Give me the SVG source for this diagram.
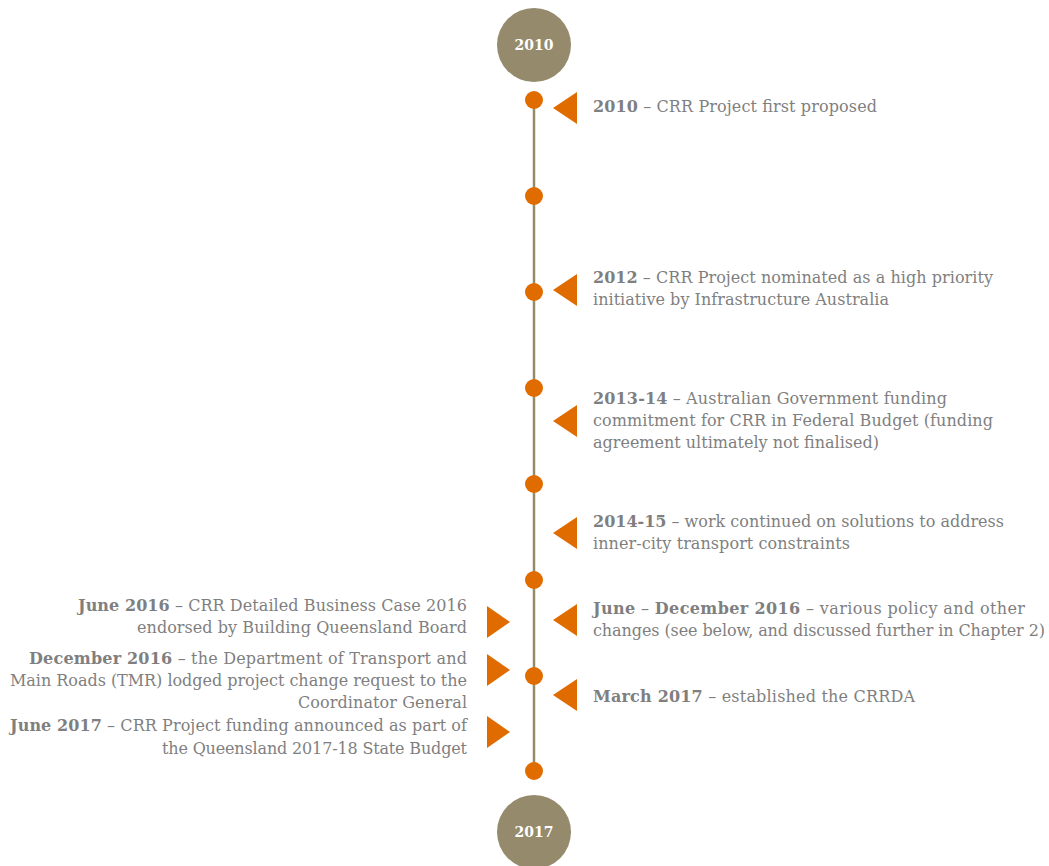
<svg xmlns="http://www.w3.org/2000/svg" width="1049" height="866" viewBox="0 0 1049 866">
<style>
.t{font-family:"DejaVu Serif",serif;font-size:16px;fill:#7f7f7f}
.b{font-weight:bold}
.yr{font-family:"DejaVu Serif",serif;font-size:14px;font-weight:bold;fill:#ffffff;text-anchor:middle}
.big{fill:#958a6c}
.dot{fill:#e06c00}
.tri{fill:#e06c00}
.r{text-anchor:end}
</style>
<rect width="1049" height="866" fill="#ffffff"/>
<g id="connectors">
<line x1="534" y1="100" x2="534" y2="771" stroke="#958a6c" stroke-width="2.5"/>
</g>
<g id="start"><circle class="big" cx="534" cy="45" r="37"/><text class="yr" x="534" y="50">2010</text></g>
<g id="end"><circle class="big" cx="534" cy="832" r="37"/><text class="yr" x="534" y="837">2017</text></g>
<g id="dots">
<circle class="dot" cx="534" cy="100" r="9"/>
<circle class="dot" cx="534" cy="196" r="9"/>
<circle class="dot" cx="534" cy="292" r="9"/>
<circle class="dot" cx="534" cy="388" r="9"/>
<circle class="dot" cx="534" cy="484" r="9"/>
<circle class="dot" cx="534" cy="580" r="9"/>
<circle class="dot" cx="534" cy="676" r="9"/>
<circle class="dot" cx="534" cy="771" r="9"/>
</g>
<g id="e2010"><polygon class="tri" points="553,108 577,92 577,124"/><text class="t" x="593" y="112" textLength="284"><tspan class="b">2010</tspan> – CRR Project first proposed</text></g>
<g id="e2012"><polygon class="tri" points="553,290 577,274 577,306"/><text class="t" x="593" y="283" textLength="400"><tspan class="b">2012</tspan> – CRR Project nominated as a high priority</text><text class="t" x="593" y="305" textLength="296">initiative by Infrastructure Australia</text></g>
<g id="e2013"><polygon class="tri" points="553,421 577,405 577,437"/><text class="t" x="593" y="404" textLength="354"><tspan class="b">2013-14</tspan> – Australian Government funding</text><text class="t" x="593" y="426" textLength="400">commitment for CRR in Federal Budget (funding</text><text class="t" x="593" y="448" textLength="286">agreement ultimately not finalised)</text></g>
<g id="e2014"><polygon class="tri" points="553,533 577,517 577,549"/><text class="t" x="593" y="527" textLength="411"><tspan class="b">2014-15</tspan> – work continued on solutions to address</text><text class="t" x="593" y="549" textLength="257">inner-city transport constraints</text></g>
<g id="e2016b"><polygon class="tri" points="553,620 577,604 577,636"/><text class="t" x="593" y="614" textLength="432"><tspan class="b">June</tspan> – <tspan class="b">December 2016</tspan> – various policy and other</text><text class="t" x="593" y="636" textLength="452">changes (see below, and discussed further in Chapter 2)</text></g>
<g id="e2017m"><polygon class="tri" points="553,695 577,679 577,711"/><text class="t" x="593" y="702" textLength="322"><tspan class="b">March 2017</tspan> – established the CRRDA</text></g>
<g id="e2016j"><polygon class="tri" points="510,622 487,606 487,638"/><text class="t r" x="467" y="611" textLength="389"><tspan class="b">June 2016</tspan> – CRR Detailed Business Case 2016</text><text class="t r" x="467" y="633" textLength="330">endorsed by Building Queensland Board</text></g>
<g id="e2016d"><polygon class="tri" points="510,670 487,654 487,686"/><text class="t r" x="467" y="664" textLength="438"><tspan class="b">December 2016</tspan> – the Department of Transport and</text><text class="t r" x="467" y="686" textLength="457">Main Roads (TMR) lodged project change request to the</text><text class="t r" x="467" y="708" textLength="169">Coordinator General</text></g>
<g id="e2017j"><polygon class="tri" points="510,732 487,716 487,748"/><text class="t r" x="467" y="731" textLength="457"><tspan class="b">June 2017</tspan> – CRR Project funding announced as part of</text><text class="t r" x="467" y="754" textLength="305">the Queensland 2017-18 State Budget</text></g>
</svg>
